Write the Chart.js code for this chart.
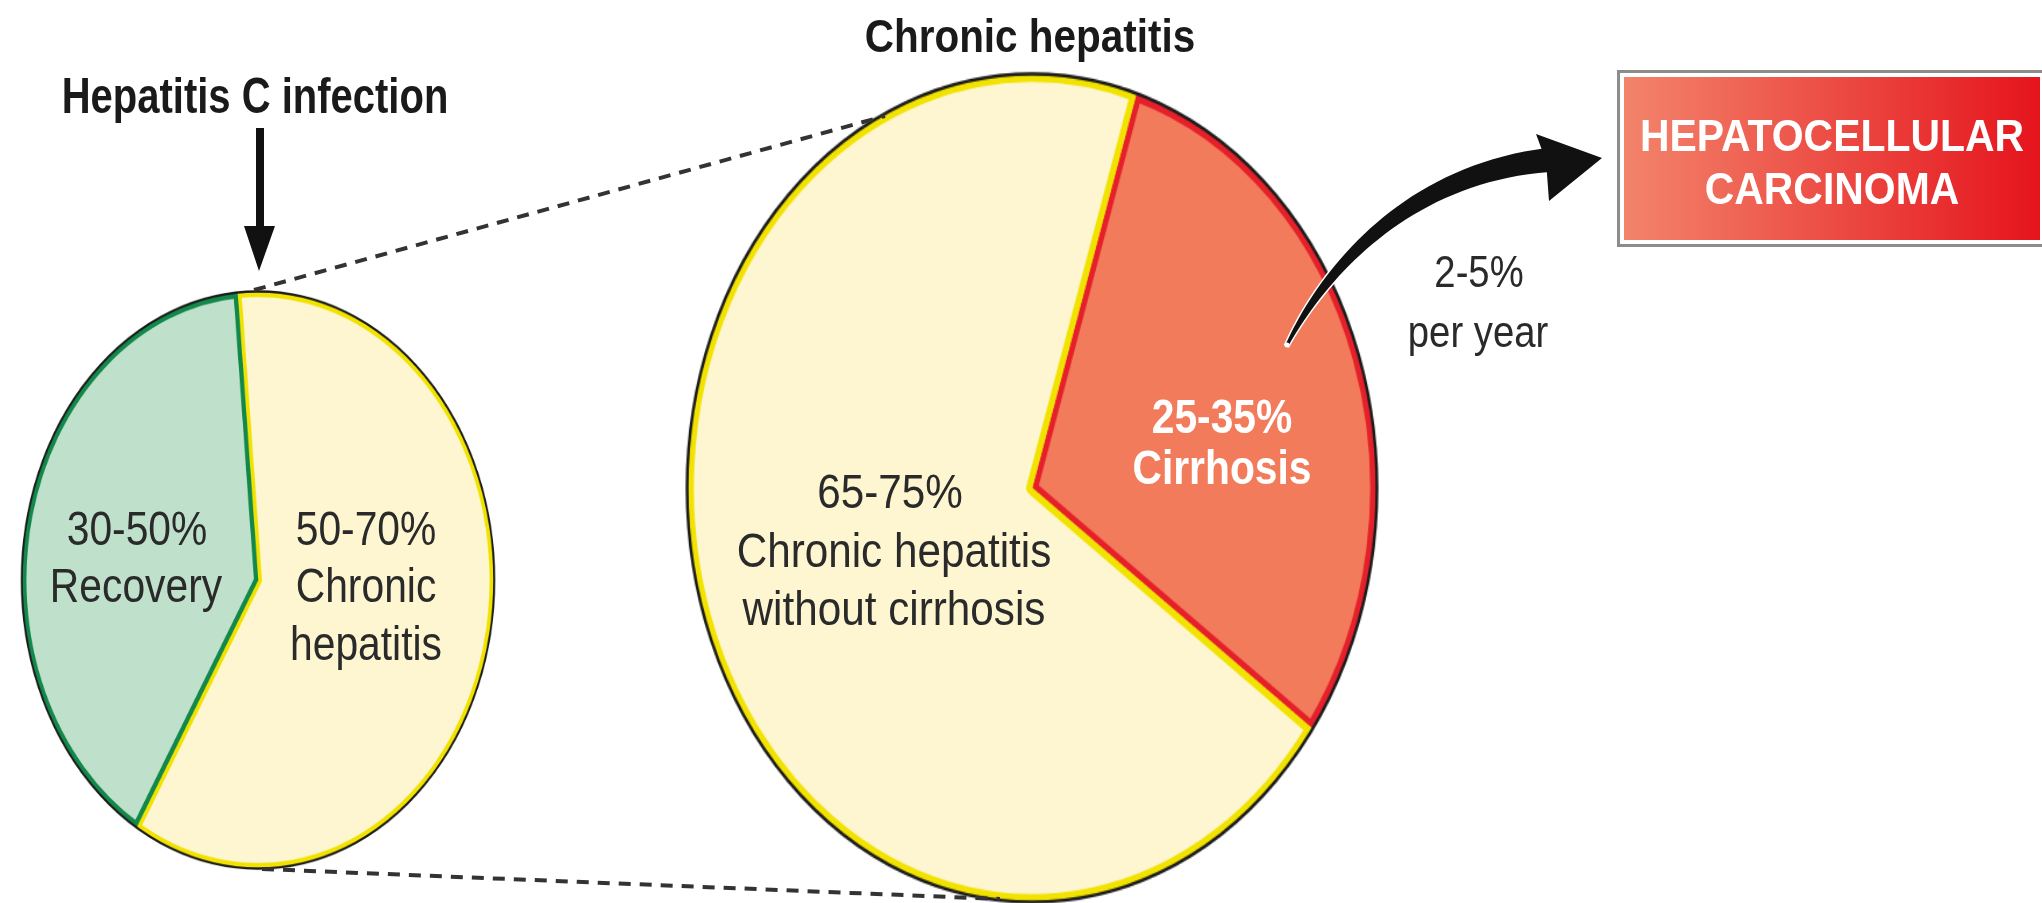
<!DOCTYPE html>
<html>
<head>
<meta charset="utf-8">
<title>Hepatitis C natural history</title>
<script src="https://cdn.jsdelivr.net/npm/chart.js@4.4.1/dist/chart.umd.min.js"></script>
<style>
  html, body { margin: 0; padding: 0; background: #fff; overflow: hidden; }
  #stage { position: relative; width: 2042px; height: 903px; overflow: hidden; background: #fff; }
  #stage canvas { position: absolute; }
  #overlay { left: 0; top: 0; pointer-events: none; }
  #hcc { position: absolute; left: 1617px; top: 70px; width: 430px; height: 177px;
         box-sizing: border-box; border: 3px solid #8c8c8c; padding: 4px; background: #fff; }
  #hcc div { width: 100%; height: 100%; background: linear-gradient(to right, #f3846b, #e5141d); }
</style>
</head>
<body>
<div id="stage">
  <canvas id="leftPie" width="600" height="600"></canvas>
  <canvas id="rightPie" width="600" height="600"></canvas>
  <div id="hcc"><div></div></div>
  <canvas id="overlay" width="2042" height="903"></canvas>
</div>
<script>
// --- Data: acute infection outcome (left pie) ---
const leftLabels = ["Chronic hepatitis", "Recovery"];
const leftValues = [60, 40];
const leftRanges = ["50-70%", "30-50%"];

// --- Data: chronic hepatitis outcome (right pie) ---
const rightLabels = ["Cirrhosis", "Chronic hepatitis without cirrhosis"];
const rightValues = [30, 70];
const rightRanges = ["25-35%", "65-75%"];

const hccRate = ["2-5%", "per year"];
const hccLabel = ["HEPATOCELLULAR", "CARCINOMA"];

// colours
const YELLOW_FILL = "#fdf6d0", YELLOW_LINE = "#f2e200";
const leftFill = [YELLOW_FILL, "#bfe1cc"];
const leftBorder = [YELLOW_LINE, "#12884a"];
const rightFill = ["#f27b5c", YELLOW_FILL];
const rightBorder = ["#e5202a", YELLOW_LINE];

// dark rim around each pie
const outline = {
  id: "outline",
  afterDatasetsDraw(chart) {
    const arc = chart.getDatasetMeta(0).data[0];
    const ctx = chart.ctx;
    ctx.save();
    ctx.beginPath();
    ctx.arc(arc.x, arc.y, arc.outerRadius + 0.5, 0, Math.PI * 2);
    ctx.strokeStyle = "#1b1b1b";
    ctx.lineWidth = 2.5;
    ctx.stroke();
    ctx.restore();
  }
};

function makePie(id, labels, values, fill, border, rotation) {
  return new Chart(document.getElementById(id), {
    type: "pie",
    data: {
      labels: labels,
      datasets: [{
        data: values,
        backgroundColor: fill,
        borderColor: border,
        borderWidth: 5,
        borderAlign: "inner"
      }]
    },
    options: {
      responsive: false,
      animation: false,
      events: [],
      rotation: rotation,
      layout: { padding: 4 },
      plugins: { legend: { display: false }, tooltip: { enabled: false } }
    },
    plugins: [outline]
  });
}

// stretch the round pie into the tall ellipse of the figure
function placeEllipse(chart, cx, cy, rx, ry) {
  const arc = chart.getDatasetMeta(0).data[0];
  const sx = rx / arc.outerRadius, sy = ry / arc.outerRadius;
  const c = chart.canvas;
  c.style.width = chart.width * sx + "px";
  c.style.height = chart.height * sy + "px";
  c.style.left = (cx - arc.x * sx) + "px";
  c.style.top = (cy - arc.y * sy) + "px";
}

const leftChart = makePie("leftPie", leftLabels, leftValues, leftFill, leftBorder, -5);
const rightChart = makePie("rightPie", rightLabels, rightValues, rightFill, rightBorder, 17.6);
placeEllipse(leftChart, 258, 580, 236, 288);
placeEllipse(rightChart, 1032, 488, 344, 413);

// --- Overlay: titles, labels, connectors, arrows ---
const ov = document.getElementById("overlay").getContext("2d");

function text(str, x, y, size, weight, color, squeeze) {
  ov.save();
  ov.translate(x, y);
  ov.scale(squeeze, 1);
  ov.font = `${weight} ${size}px "Liberation Sans", Arial, sans-serif`;
  ov.fillStyle = color;
  ov.textAlign = "center";
  ov.fillText(str, 0, 0);
  ov.restore();
}

// dashed zoom lines
ov.save();
ov.strokeStyle = "#333";
ov.lineWidth = 4;
ov.setLineDash([12, 9]);
ov.beginPath();
ov.moveTo(254, 290); ov.lineTo(885, 116);
ov.moveTo(262, 869); ov.lineTo(1000, 899);
ov.stroke();
ov.restore();

// infection arrow
ov.fillStyle = "#111";
ov.fillRect(256, 128, 8, 102);
ov.beginPath();
ov.moveTo(244, 226); ov.lineTo(275, 226); ov.lineTo(259, 271); ov.closePath();
ov.fill();

// curved tapered arrow cirrhosis -> HCC
(function () {
  const p0 = [1287, 345], p1 = [1320, 280], p2 = [1400, 175], p3 = [1548, 160];
  const pt = t => {
    const u = 1 - t;
    return [0, 1].map(i => u*u*u*p0[i] + 3*u*u*t*p1[i] + 3*u*t*t*p2[i] + t*t*t*p3[i]);
  };
  const tan = t => {
    const u = 1 - t;
    return [0, 1].map(i => 3*u*u*(p1[i]-p0[i]) + 6*u*t*(p2[i]-p1[i]) + 3*t*t*(p3[i]-p2[i]));
  };
  const left = [], right = [];
  for (let k = 0; k <= 40; k++) {
    const t = k / 40, p = pt(t), d = tan(t);
    const len = Math.hypot(d[0], d[1]);
    const nx = -d[1] / len, ny = d[0] / len;
    const w = 1.5 + 10.5 * t;
    left.push([p[0] + nx * w, p[1] + ny * w]);
    right.push([p[0] - nx * w, p[1] - ny * w]);
  }
  ov.beginPath();
  ov.moveTo(left[0][0], left[0][1]);
  left.forEach(q => ov.lineTo(q[0], q[1]));
  right.reverse().forEach(q => ov.lineTo(q[0], q[1]));
  ov.closePath();
  ov.strokeStyle = "#ffffff";
  ov.lineWidth = 3;
  ov.stroke();
  ov.fillStyle = "#111";
  ov.fill();
  ov.beginPath();
  ov.moveTo(1536, 134); ov.lineTo(1602, 158); ov.lineTo(1549, 201); ov.lineTo(1546, 161);
  ov.closePath();
  ov.fill();
  ov.beginPath();
  ov.arc(p0[0], p0[1], 2.5, 0, Math.PI * 2);
  ov.fillStyle = "#fff";
  ov.fill();
})();

// titles
text("Hepatitis C infection", 255, 113, 50, "bold", "#1a1a1a", 0.8);
text("Chronic hepatitis", 1030, 52, 46, "bold", "#1a1a1a", 0.88);

// left pie labels
text(leftRanges[1], 137, 545, 48, "normal", "#2a2a2a", 0.85);
text(leftLabels[1], 136, 602, 48, "normal", "#2a2a2a", 0.85);
text(leftRanges[0], 366, 545, 48, "normal", "#2a2a2a", 0.85);
text("Chronic", 366, 602, 48, "normal", "#2a2a2a", 0.85);
text("hepatitis", 366, 660, 48, "normal", "#2a2a2a", 0.85);

// right pie labels
text(rightRanges[1], 890, 508, 48, "normal", "#2a2a2a", 0.88);
text("Chronic hepatitis", 894, 567, 48, "normal", "#2a2a2a", 0.88);
text("without cirrhosis", 894, 625, 48, "normal", "#2a2a2a", 0.88);
text(rightRanges[0], 1222, 433, 48, "bold", "#ffffff", 0.85);
text(rightLabels[0], 1222, 484, 48, "bold", "#ffffff", 0.85);

// rate
text(hccRate[0], 1479, 287, 45, "normal", "#2a2a2a", 0.85);
text(hccRate[1], 1478, 347, 45, "normal", "#2a2a2a", 0.85);

// HCC box text
text(hccLabel[0], 1832, 151, 44, "bold", "#ffffff", 0.93);
text(hccLabel[1], 1832, 204, 44, "bold", "#ffffff", 0.93);
</script>
</body>
</html>
